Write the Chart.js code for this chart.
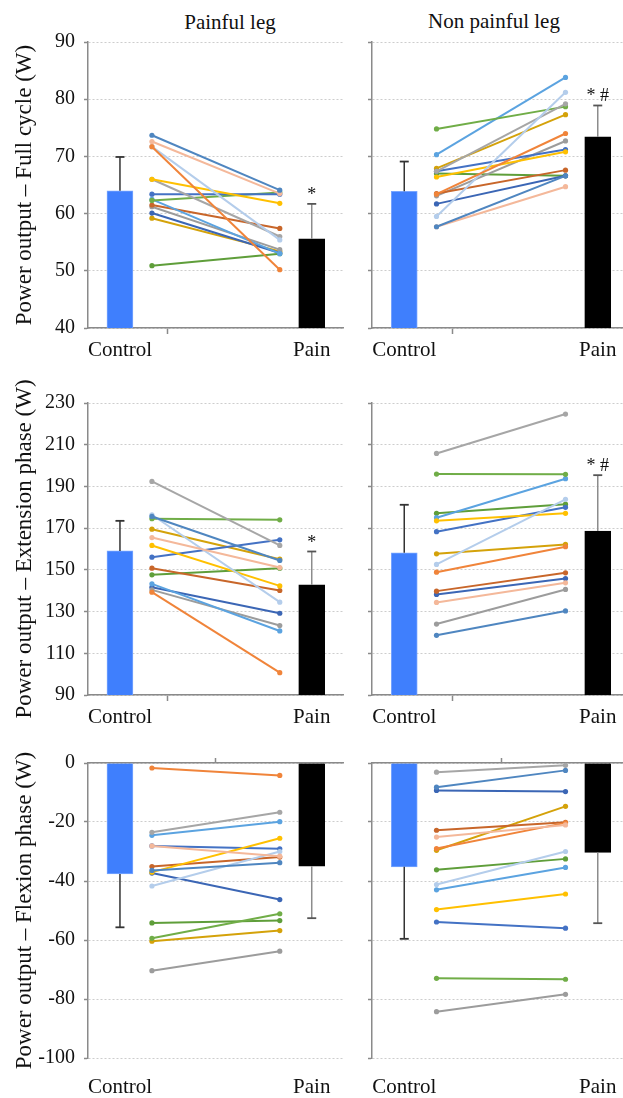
<!DOCTYPE html>
<html>
<head>
<meta charset="utf-8">
<script src="https://cdn.jsdelivr.net/npm/chart.js@4.4.1/dist/chart.umd.min.js"></script>
<style>
  html, body { margin: 0; padding: 0; background: #fff; overflow: hidden; }
  #page { position: relative; width: 623px; height: 1098px; overflow: hidden; }
  .panel { position: absolute; }
  .col-title {
    position: absolute;
    font: 21px "Liberation Serif", "Times New Roman", serif;
    color: #111;
    transform: translate(-50%, -50%);
    white-space: nowrap;
  }
</style>
</head>
<body>
<div id="page">
  <div class="col-title" style="left:230px; top:22px">Painful leg</div>
  <div class="col-title" style="left:494px; top:21px">Non painful leg</div>

  <canvas class="panel" id="fullPainful" width="350" height="370" style="left:0; top:0"></canvas>
  <canvas class="panel" id="fullNonPainful" width="300" height="370" style="left:340px; top:0"></canvas>
  <canvas class="panel" id="extPainful" width="350" height="370" style="left:0; top:370px"></canvas>
  <canvas class="panel" id="extNonPainful" width="300" height="370" style="left:340px; top:370px"></canvas>
  <canvas class="panel" id="flexPainful" width="350" height="358" style="left:0; top:740px"></canvas>
  <canvas class="panel" id="flexNonPainful" width="300" height="358" style="left:340px; top:740px"></canvas>
</div>

<script>
const groupLabels = ['Control', 'Pain'];

// one colour per participant line
const subjectColors = [
    '#4f86c0', '#f4b89a', '#f0843a', '#b4cdeb', '#ffc000', '#a6a6a6', '#4472c4',
    '#70ad47', '#5ba3e0', '#c8662a', '#9c9c9c', '#3b66b5', '#d4a20a', '#5f9e3a'
];

// Full cycle
const fullPainfulMeans = [64.0, 55.6];
const fullPainfulSD = [5.9, 6.1];
const fullPainfulBefore = [73.7, 72.6, 71.7, 71.7, 66.0, 66.0, 63.4, 62.3, 62.5, 61.5, 61.2, 60.1, 59.2, 50.9];
const fullPainfulAfter = [64.1, 63.5, 50.2, 55.4, 61.8, 56.0, 63.4, 63.7, 53.0, 57.4, 53.7, 53.1, 53.4, 53.0];

const fullNonPainfulMeans = [63.9, 73.4];
const fullNonPainfulSD = [5.2, 5.5];
const fullNonPainfulBefore = [57.7, 57.7, 63.4, 59.5, 66.4, 67.4, 67.4, 74.8, 70.3, 63.5, 63.1, 61.7, 67.9, 67.0];
const fullNonPainfulAfter = [66.6, 64.7, 74.0, 81.2, 70.8, 79.2, 71.2, 78.7, 83.8, 67.6, 72.7, 66.6, 77.3, 66.6];

// Extension phase
const extPainfulMeans = [159.1, 142.8];
const extPainfulSD = [14.4, 16.0];
const extPainfulBefore = [175.6, 165.5, 139.3, 176.4, 161.7, 192.4, 156.1, 174.5, 143.3, 150.8, 140.4, 141.7, 169.5, 147.6];
const extPainfulAfter = [154.5, 151.1, 100.7, 134.5, 142.3, 161.7, 164.4, 174.0, 120.7, 140.1, 123.3, 129.2, 155.1, 150.8];

const extNonPainfulMeans = [158.2, 168.6];
const extNonPainfulSD = [23.0, 26.8];
const extNonPainfulBefore = [118.6, 134.4, 148.9, 152.6, 173.5, 205.8, 168.3, 195.9, 175.0, 139.8, 124.0, 138.2, 157.7, 177.1];
const extNonPainfulAfter = [130.3, 143.8, 161.1, 183.8, 177.1, 224.7, 180.0, 195.8, 193.7, 148.6, 140.6, 145.8, 162.2, 181.5];

// Flexion phase
const flexPainfulMeans = [-37.6, -35.0];
const flexPainfulSD = [18.1, 17.6];
const flexPainfulBefore = [-36.4, -28.1, -1.7, -41.7, -37.0, -23.5, -28.1, -59.4, -24.5, -35.1, -70.4, -37.3, -60.4, -54.2];
const flexPainfulAfter = [-33.8, -31.6, -4.2, -30.0, -25.5, -16.7, -29.1, -51.1, -19.9, -31.9, -63.8, -46.3, -56.8, -53.4];

const flexNonPainfulMeans = [-35.2, -30.3];
const flexNonPainfulSD = [24.4, 24.0];
const flexNonPainfulBefore = [-8.2, -25.1, -29.0, -41.2, -49.7, -3.1, -53.9, -73.0, -43.0, -22.8, -84.3, -9.3, -29.6, -36.2];
const flexNonPainfulAfter = [-2.5, -21.0, -20.3, -30.0, -44.4, -0.8, -56.0, -73.3, -35.4, -20.1, -78.4, -9.7, -14.7, -32.5];

// positions along the hidden 0..1 x axis
const X_CONTROL = 0.125;
const X_BEFORE = 0.25;
const X_AFTER = 0.75;
const X_PAIN = 0.875;

const SERIF = '"Liberation Serif", "Times New Roman", serif';
const AXIS_GRAY = '#8a8a8a';
const CONTROL_BLUE = '#3f7ffd';

// "*" / "* #" above the pain error bar
const sigMarkPlugin = {
    id: 'sigMark',
    afterDatasetsDraw(chart, args, opts) {
        if (!opts.text) return;
        const {ctx, scales: {x, y}} = chart;
        const top = y.getPixelForValue(opts.value);
        ctx.save();
        ctx.font = '18px ' + SERIF;
        ctx.fillStyle = '#111';
        ctx.textAlign = 'center';
        ctx.textBaseline = 'alphabetic';
        ctx.fillText(opts.text, x.getPixelForValue(X_PAIN), top - 4);
        ctx.restore();
    }
};

const buildPanel = (id, cfg) => {
    const {means, sd, before, after, yMin, yMax, step, title, leftSide, mark, flexion, padTop, xHeight, labelPad} = cfg;
    const datasets = [];

    datasets.push({
        type: 'bar',
        data: [{x: X_CONTROL, y: means[0]}, {x: X_PAIN, y: means[1]}],
        backgroundColor: [CONTROL_BLUE, '#000000'],
        borderColor: ['#79a6ff', '#000000'],
        borderWidth: 1,
        barThickness: 26,
        order: 3
    });

    [X_CONTROL, X_PAIN].forEach((x, i) => {
        const dir = means[i] < 0 ? -1 : 1;
        datasets.push({
            type: 'line',
            data: [{x: x, y: means[i]}, {x: x, y: means[i] + dir * sd[i]}],
            borderColor: i === 0 ? '#333333' : '#8c8c8c',
            borderWidth: 1.5,
            pointStyle: 'line',
            pointRadius: [0, 4.5],
            pointBorderWidth: 1.8,
            pointBorderColor: i === 0 ? '#333333' : '#555555',
            clip: false,
            order: 2
        });
    });

    before.forEach((v, i) => {
        datasets.push({
            type: 'line',
            data: [{x: X_BEFORE, y: v}, {x: X_AFTER, y: after[i]}],
            borderColor: subjectColors[i],
            backgroundColor: subjectColors[i],
            pointBackgroundColor: subjectColors[i],
            borderWidth: 2,
            pointRadius: 2.6,
            pointBorderWidth: 0,
            clip: false,
            order: 1
        });
    });

    const scales = {
        x: {
            type: 'linear',
            position: 'bottom',
            min: 0,
            max: 1,
            offset: false,
            afterBuildTicks: (s) => { s.ticks = [X_CONTROL, 0.5, X_PAIN].map((value) => ({value})); },
            ticks: {
                autoSkip: false,
                maxRotation: 0,
                padding: labelPad,
                color: '#111',
                font: {family: SERIF, size: 21},
                callback: (v) => v === X_CONTROL ? groupLabels[0] : (v === X_PAIN ? groupLabels[1] : '')
            },
            grid: {
                drawOnChartArea: false,
                tickLength: 6,
                tickWidth: 1.5,
                tickColor: (c) => (!flexion && c.tick && c.tick.value === 0.5) ? AXIS_GRAY : 'rgba(0,0,0,0)'
            },
            border: {display: !flexion, color: AXIS_GRAY, width: 1.5},
            afterFit: (s) => { s.height = xHeight; }
        },
        y: {
            min: yMin,
            max: yMax,
            ticks: {
                stepSize: step,
                padding: 9,
                color: '#111',
                font: {family: SERIF, size: 20},
                callback: (v) => leftSide ? v : ''
            },
            grid: {
                color: '#cdcdcd',
                lineWidth: 1,
                tickColor: AXIS_GRAY,
                tickLength: 4,
                tickWidth: 1.5,
                tickBorderDash: []
            },
            border: {display: true, color: AXIS_GRAY, width: 1.5, dash: [2, 2]},
            title: {
                display: leftSide,
                text: title,
                color: '#111',
                font: {family: SERIF, size: 23},
                padding: {top: 11, bottom: 0}
            },
            afterFit: (s) => { s.width = leftSide ? 88 : 32; }
        }
    };

    if (flexion) {
        // zero line along the top with its centre tick
        scales.xTop = {
            type: 'linear',
            position: 'top',
            min: 0,
            max: 1,
            afterBuildTicks: (s) => { s.ticks = [{value: 0.5}]; },
            ticks: {display: false},
            grid: {drawOnChartArea: false, tickLength: 5, tickWidth: 1.5, tickColor: AXIS_GRAY},
            border: {display: true, color: AXIS_GRAY, width: 1.5},
            afterFit: (s) => { s.height = 0; }
        };
    }

    return new Chart(document.getElementById(id), {
        type: 'line',
        data: {datasets: datasets},
        options: {
            responsive: false,
            animation: false,
            events: [],
            layout: {padding: {top: padTop, bottom: 0, left: 0, right: leftSide ? 2 : 10}},
            plugins: {
                legend: {display: false},
                tooltip: {enabled: false},
                sigMark: {text: mark, value: means[1] + sd[1]}
            },
            scales: scales
        },
        plugins: [sigMarkPlugin]
    });
};

buildPanel('fullPainful', {
    means: fullPainfulMeans, sd: fullPainfulSD, before: fullPainfulBefore, after: fullPainfulAfter,
    yMin: 40, yMax: 90, step: 10, title: 'Power output – Full cycle (W)', leftSide: true,
    mark: '*', flexion: false, padTop: 42, xHeight: 42, labelPad: 4
});
buildPanel('fullNonPainful', {
    means: fullNonPainfulMeans, sd: fullNonPainfulSD, before: fullNonPainfulBefore, after: fullNonPainfulAfter,
    yMin: 40, yMax: 90, step: 10, title: '', leftSide: false,
    mark: '* #', flexion: false, padTop: 42, xHeight: 42, labelPad: 4
});
buildPanel('extPainful', {
    means: extPainfulMeans, sd: extPainfulSD, before: extPainfulBefore, after: extPainfulAfter,
    yMin: 90, yMax: 230, step: 20, title: 'Power output – Extension phase (W)', leftSide: true,
    mark: '*', flexion: false, padTop: 33, xHeight: 45, labelPad: 4
});
buildPanel('extNonPainful', {
    means: extNonPainfulMeans, sd: extNonPainfulSD, before: extNonPainfulBefore, after: extNonPainfulAfter,
    yMin: 90, yMax: 230, step: 20, title: '', leftSide: false,
    mark: '* #', flexion: false, padTop: 33, xHeight: 45, labelPad: 4
});
buildPanel('flexPainful', {
    means: flexPainfulMeans, sd: flexPainfulSD, before: flexPainfulBefore, after: flexPainfulAfter,
    yMin: -100, yMax: 0, step: 20, title: 'Power output – Flexion phase (W)', leftSide: true,
    mark: '', flexion: true, padTop: 23, xHeight: 40, labelPad: 11
});
buildPanel('flexNonPainful', {
    means: flexNonPainfulMeans, sd: flexNonPainfulSD, before: flexNonPainfulBefore, after: flexNonPainfulAfter,
    yMin: -100, yMax: 0, step: 20, title: '', leftSide: false,
    mark: '', flexion: true, padTop: 23, xHeight: 40, labelPad: 11
});
</script>
</body>
</html>
